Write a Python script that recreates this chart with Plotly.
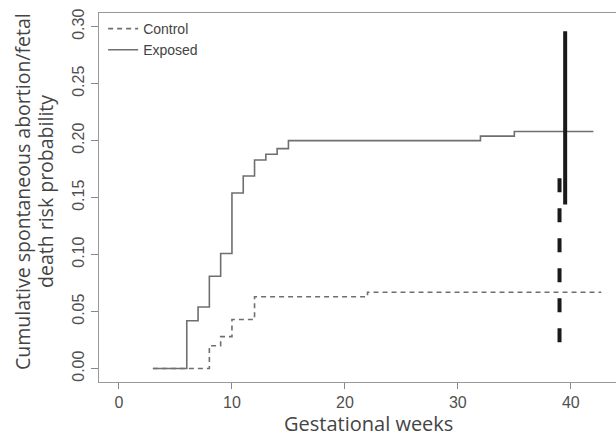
import plotly.graph_objects as go

# Step curves (cumulative risk by gestational week)
weeks_exposed = [3, 6, 7, 8, 9, 10, 11, 12, 13, 14, 15, 32, 35, 42]
risk_exposed = [0.0, 0.042, 0.054, 0.081, 0.101, 0.154, 0.169, 0.183, 0.188, 0.193, 0.200, 0.204, 0.208, 0.208]

weeks_control = [3, 8, 9, 10, 12, 22, 42.7]
risk_control = [0.0, 0.020, 0.028, 0.043, 0.063, 0.067, 0.067]

# Confidence intervals at term
ci_exposed_week = 39.5
ci_exposed = [0.296, 0.144]
ci_control_week = 39.0
ci_control = [0.167, 0.023]

x_ticks = [0, 10, 20, 30, 40]
y_ticks = [0.00, 0.05, 0.10, 0.15, 0.20, 0.25, 0.30]

x_title = "Gestational weeks"
y_title_lines = ["Cumulative spontaneous abortion/fetal", "death risk probability"]

gray = "#6f6f6f"
fig = go.Figure()
fig.add_trace(go.Scatter(x=weeks_control, y=risk_control, mode="lines", line_shape="hv",
                         name="Control", line=dict(color=gray, width=1.6, dash="5px,4px")))
fig.add_trace(go.Scatter(x=weeks_exposed, y=risk_exposed, mode="lines", line_shape="hv",
                         name="Exposed", line=dict(color=gray, width=1.6)))
fig.add_trace(go.Scatter(x=[ci_control_week] * 2, y=ci_control, mode="lines", showlegend=False,
                         line=dict(color="#1a1a1a", width=4, dash="14px,16px")))
fig.add_trace(go.Scatter(x=[ci_exposed_week] * 2, y=ci_exposed, mode="lines", showlegend=False,
                         line=dict(color="#1a1a1a", width=4)))

tickfont = dict(family="Liberation Sans, Arial, sans-serif", size=16, color="#505050")
xtitlefont = dict(family="Open Sans, sans-serif", size=20, color="#444444")
ytitlefont = dict(family="Open Sans, sans-serif", size=19.5, color="#444444")

annotations = [
    dict(text=x_title, xref="paper", yref="paper", x=0.522, y=-0.1545,
         xanchor="center", yanchor="bottom", showarrow=False, font=xtitlefont),
    dict(text=y_title_lines[0], xref="paper", yref="paper", x=-0.147, y=0.515,
         xanchor="center", yanchor="middle", textangle=-90, showarrow=False, font=ytitlefont),
    dict(text=y_title_lines[1], xref="paper", yref="paper", x=-0.1025, y=0.515,
         xanchor="center", yanchor="middle", textangle=-90, showarrow=False, font=ytitlefont),
]

fig.update_layout(
    width=616, height=440,
    margin=dict(l=99, r=0, t=13, b=58, autoexpand=False),
    plot_bgcolor="white", paper_bgcolor="white",
    showlegend=True,
    legend=dict(x=0.008, y=1.0, xanchor="left", yanchor="top", bgcolor="rgba(0,0,0,0)",
                font=dict(family="Liberation Sans, Arial, sans-serif", size=14, color="#444444"),
                itemwidth=30, tracegroupgap=0),
    xaxis=dict(range=[-1.77, 44.0], tickvals=x_ticks, ticks="outside", ticklen=6, tickwidth=1.2,
               tickcolor="#888888", showline=True, linecolor="#999999", linewidth=1.3, mirror=True,
               showgrid=False, zeroline=False, tickfont=tickfont, automargin=False),
    yaxis=dict(range=[-0.0118, 0.3120], tickvals=y_ticks, tickformat=".2f", tickangle=-90,
               ticks="outside", ticklen=7, tickwidth=1.2, tickcolor="#888888",
               showline=True, linecolor="#999999", linewidth=1.3, mirror=False,
               showgrid=False, zeroline=False, tickfont=tickfont, automargin=False),
    annotations=annotations,
)

fig.write_html("out.html", config={"displayModeBar": False},
               post_script="document.body.style.margin='0';")
